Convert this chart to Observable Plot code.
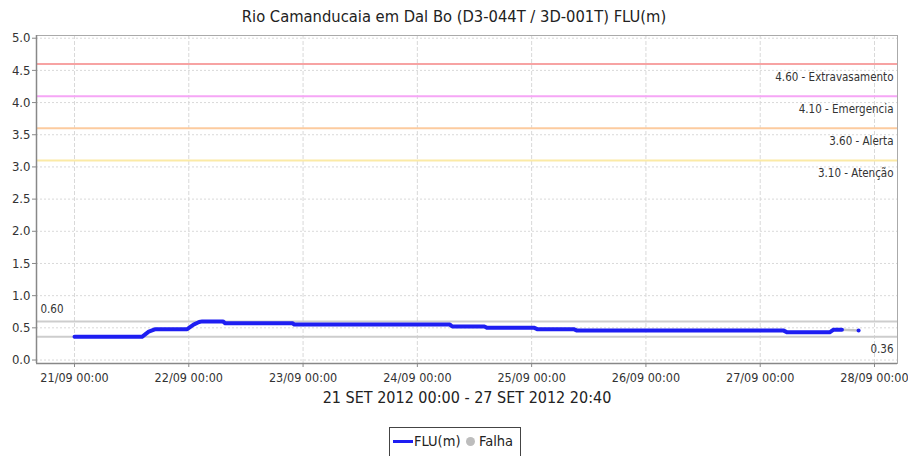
<!DOCTYPE html>
<html><head><meta charset="utf-8">
<script src="https://cdn.jsdelivr.net/npm/d3@7"></script>
<script src="https://cdn.jsdelivr.net/npm/@observablehq/plot@0.6"></script>
<style>
html,body{margin:0;padding:0;background:#fff;overflow:hidden;}
#wrap{position:relative;width:908px;height:456px;overflow:hidden;font-family:"DejaVu Sans Condensed","DejaVu Sans",sans-serif;font-stretch:condensed;color:#222;}
#title{position:absolute;left:0;top:7px;width:908px;text-align:center;font-size:16.4px;line-height:20px;}
#chart{position:absolute;left:0;top:28px;}
#legend{position:absolute;left:389px;top:427px;width:132px;height:40px;border:1px solid #444;box-sizing:border-box;background:#fff;}
#legend .ln{position:absolute;left:3px;top:12px;width:20px;height:3px;}
#legend .t{position:absolute;top:0;line-height:27px;font-size:14.5px;white-space:nowrap;}
#legend .dot{position:absolute;left:76px;top:9px;width:9px;height:9px;border-radius:50%;background:#bdbdbd;}
</style></head>
<body>
<div id="wrap">
  <div id="title"></div>
  <div id="chart"></div>
  <div id="legend"><span class="ln"></span><span class="t" id="lg1" style="left:24px"></span><span class="dot"></span><span class="t" id="lg2" style="left:89px"></span></div>
</div>
<script>
// ---- data ----
const chartTitle = "Rio Camanducaia em Dal Bo (D3-044T / 3D-001T) FLU(m)";
const xAxisLabel = "21 SET 2012 00:00 - 27 SET 2012 20:40";
const seriesName = "FLU(m)";
const failName = "Falha";

const flowTimes = [
  "2012-09-21T00:00","2012-09-21T14:10","2012-09-21T15:35","2012-09-21T17:00",
  "2012-09-21T23:40","2012-09-22T01:00","2012-09-22T02:10","2012-09-22T02:50",
  "2012-09-22T07:10","2012-09-22T07:40","2012-09-22T21:50","2012-09-22T22:10",
  "2012-09-24T06:50","2012-09-24T07:20","2012-09-24T14:05","2012-09-24T14:40",
  "2012-09-25T00:35","2012-09-25T01:10","2012-09-25T08:50","2012-09-25T09:25",
  "2012-09-27T04:50","2012-09-27T05:40","2012-09-27T14:35","2012-09-27T15:20",
  "2012-09-27T17:10","2012-09-27T20:40"
];
const flowValues = [
  0.36,0.36,0.44,0.48,
  0.48,0.55,0.59,0.60,
  0.60,0.57,0.57,0.55,
  0.55,0.52,0.52,0.50,
  0.50,0.48,0.48,0.46,
  0.46,0.43,0.43,0.47,
  0.47,0.46
];
const failStart = "2012-09-27T17:10";
const failEnd = "2012-09-27T20:40";

const thresholdValues = [4.60, 4.10, 3.60, 3.10];
const thresholdNames = ["Extravasamento", "Emergencia", "Alerta", "Atenção"];

const yTicks = [0, 0.5, 1.0, 1.5, 2.0, 2.5, 3.0, 3.5, 4.0, 4.5, 5.0];
const xTicks = ["2012-09-21T00:00","2012-09-22T00:00","2012-09-23T00:00","2012-09-24T00:00",
                "2012-09-25T00:00","2012-09-26T00:00","2012-09-27T00:00","2012-09-28T00:00"];
const xDomainStr = ["2012-09-20T16:01","2012-09-28T04:50"];
const yDomain = [-0.054, 5.042];

// ---- styles ----
const thresholdColors = ["#f7a3a3", "#f6a6f6", "#fccb9f", "#fbeaa6"];
const blue = "#1e1ef2";
const FONT = '"DejaVu Sans Condensed","DejaVu Sans",sans-serif';

// ---- build ----
const parse = d3.utcParse("%Y-%m-%dT%H:%M");
const flow = flowTimes.map((t, i) => ({t: parse(t), v: flowValues[i]}));
const fs = parse(failStart), fe = parse(failEnd);
const mainPart = flow.filter(d => d.t <= fs);
const failPart = flow.filter(d => d.t >= fs && d.t <= fe);
const afterPart = flow.filter(d => d.t >= fe);
const maxV = d3.max(flowValues), minV = d3.min(flowValues);
const thresholds = thresholdValues.map((v, i) => ({v, label: d3.format(".2f")(v) + " - " + thresholdNames[i], i}));
const xTickDates = xTicks.map(parse);
const xDomain = xDomainStr.map(parse);

document.getElementById("title").textContent = chartTitle;
document.getElementById("lg1").textContent = seriesName;
document.getElementById("lg2").textContent = failName;
document.querySelector("#legend .ln").style.background = blue;

const chart = Plot.plot({
  width: 908, height: 395,
  marginLeft: 36, marginRight: 11, marginTop: 7, marginBottom: 60,
  style: `font-family:${FONT};font-stretch:condensed;background:white;overflow:visible;`,
  x: {type: "utc", domain: xDomain},
  y: {domain: yDomain},
  marks: [
    Plot.gridY(yTicks, {stroke: "#d9d9d9", strokeOpacity: 1, strokeDasharray: "2,2"}),
    Plot.gridX(xTickDates, {stroke: "#d9d9d9", strokeOpacity: 1, strokeDasharray: "4,2"}),
    ...thresholds.map(d => Plot.ruleY([d.v], {stroke: thresholdColors[d.i], strokeWidth: 2})),
    Plot.text(thresholds, {y: "v", text: "label", frameAnchor: "right", textAnchor: "end", dx: -4, dy: 13, fontSize: 11.5, fill: "#333"}),
    Plot.ruleY([maxV, minV], {stroke: "#cdcdcd", strokeWidth: 2}),
    Plot.text([maxV], {y: d => d, text: d => d3.format(".2f")(d), frameAnchor: "left", textAnchor: "start", dx: 4, dy: -12, fontSize: 11.5, fill: "#333"}),
    Plot.text([minV], {y: d => d, text: d => d3.format(".2f")(d), frameAnchor: "right", textAnchor: "end", dx: -4, dy: 12.5, fontSize: 11.5, fill: "#333"}),
    Plot.frame({stroke: "#aaa"}),
    Plot.ruleX([xDomain[0]], {stroke: "#888", strokeWidth: 1.5}),
    Plot.ruleY([yDomain[0]], {stroke: "#888", strokeWidth: 1.5}),
    Plot.line(failPart, {x: "t", y: "v", stroke: "#c4c4c4", strokeWidth: 2.5}),
    Plot.line(mainPart, {x: "t", y: "v", stroke: blue, strokeWidth: 4, strokeLinejoin: "round"}),
    Plot.dot(afterPart, {x: "t", y: "v", r: 2, fill: blue}),
    Plot.axisY(yTicks, {tickSize: 4, tickPadding: 2, tickFormat: d3.format(".1f"), fontSize: 13, color: "#333", stroke: "#888", label: null}),
    Plot.axisX(xTickDates, {tickSize: 4, tickPadding: 6, tickFormat: d3.utcFormat("%d/%m %H:%M"), fontSize: 12.5, color: "#333", stroke: "#888", label: null}),
    Plot.text([xAxisLabel], {frameAnchor: "bottom", dy: 39, fontSize: 16, fill: "#222"})
  ]
});
document.getElementById("chart").appendChild(chart);
</script>
</body></html>
